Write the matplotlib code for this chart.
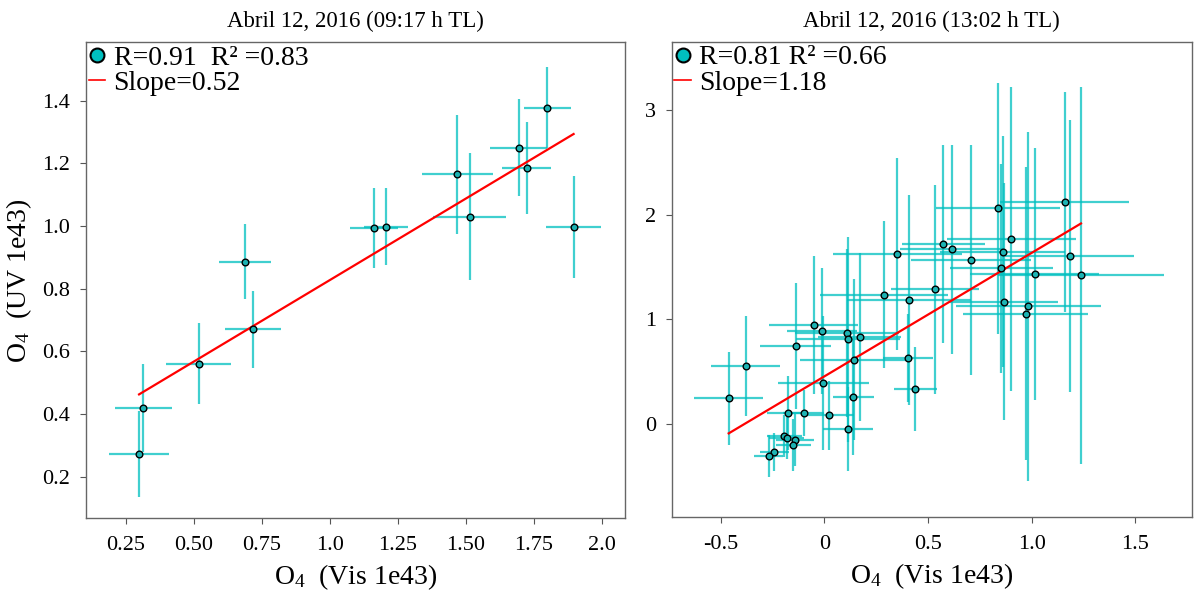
import numpy as np
import matplotlib
matplotlib.use("Agg")
import matplotlib.pyplot as plt
from matplotlib.lines import Line2D

plt.rcParams["font.family"] = ["Liberation Serif", "DejaVu Serif"]
plt.rcParams["mathtext.fontset"] = "custom"
plt.rcParams["mathtext.rm"] = "Liberation Serif"

# morning scan (09:17 h)
x_am = [0.299, 0.315, 0.518, 0.689, 0.718, 1.163, 1.208, 1.469, 1.515, 1.695, 1.724, 1.801, 1.897]
y_am = [0.272, 0.420, 0.560, 0.886, 0.670, 0.994, 0.998, 1.165, 1.029, 1.249, 1.185, 1.378, 0.998]
xerr_am = [0.109, 0.105, 0.119, 0.097, 0.104, 0.088, 0.080, 0.130, 0.134, 0.105, 0.090, 0.087, 0.100]
yerr_am = [0.136, 0.140, 0.129, 0.119, 0.122, 0.127, 0.123, 0.190, 0.203, 0.155, 0.148, 0.130, 0.163]
slope_am, icpt_am = 0.52, 0.307

# midday scan (13:02 h)
x_pm = [-0.461, -0.379, -0.138, -0.051, -0.010, 0.109, 0.114, 0.172, 0.143, -0.005,
        0.140, 0.024, 0.115, -0.177, -0.100, -0.193, -0.182, -0.141, -0.150, -0.241,
        -0.267, 0.289, 0.408, 0.402, 0.439, 0.352, 0.839, 1.159, 0.574, 0.617,
        0.708, 0.902, 0.860, 0.854, 1.183, 1.015, 1.238, 0.534, 0.867, 0.984, 0.971]
y_pm = [0.247, 0.557, 0.745, 0.949, 0.892, 0.872, 0.812, 0.831, 0.614, 0.397,
        0.260, 0.085, -0.043, 0.107, 0.107, -0.113, -0.132, -0.152, -0.196, -0.263,
        -0.305, 1.236, 1.185, 0.630, 0.333, 1.625, 2.062, 2.120, 1.721, 1.670,
        1.571, 1.766, 1.648, 1.488, 1.603, 1.434, 1.421, 1.287, 1.169, 1.124, 1.054]
xerr_pm = [0.165, 0.165, 0.17, 0.215, 0.17, 0.25, 0.25, 0.2, 0.26, 0.22,
           0.1, 0.12, 0.12, 0.1, 0.1, 0.085, 0.085, 0.09, 0.085, 0.07,
           0.07, 0.31, 0.3, 0.12, 0.105, 0.31, 0.30, 0.31, 0.20, 0.25,
           0.29, 0.31, 0.30, 0.25, 0.31, 0.31, 0.40, 0.21, 0.26, 0.35, 0.30]
yerr_pm = [0.445, 0.48, 0.6, 0.66, 0.6, 0.8, 0.98, 0.8, 0.77, 0.64,
           0.55, 0.33, 0.4, 0.35, 0.22, 0.2, 0.2, 0.25, 0.25, 0.18,
           0.2, 0.7, 1.0, 0.42, 0.4, 0.92, 1.2, 1.05, 0.95, 1.0,
           1.1, 1.45, 1.1, 1.0, 1.3, 1.2, 1.8, 1.0, 1.13, 1.67, 1.4]
slope_pm, icpt_pm = 1.18, 0.456

panels = [
    dict(x=x_am, y=y_am, xe=xerr_am, ye=yerr_am, m=slope_am, b=icpt_am,
         title="Abril 12, 2016 (09:17 h TL)", stats="R=0.91  R² =0.83",
         xlim=(0.103, 2.087), ylim=(0.068, 1.586),
         xticks=[0.25, 0.5, 0.75, 1.0, 1.25, 1.5, 1.75, 2.0],
         xlabels=["0.25", "0.50", "0.75", "1.0", "1.25", "1.50", "1.75", "2.0"],
         yticks=[0.2, 0.4, 0.6, 0.8, 1.0, 1.2, 1.4],
         ylabels=["0.2", "0.4", "0.6", "0.8", "1.0", "1.2", "1.4"]),
    dict(x=x_pm, y=y_pm, xe=xerr_pm, ye=yerr_pm, m=slope_pm, b=icpt_pm,
         title="Abril 12, 2016 (13:02 h TL)", stats="R=0.81 R² =0.66",
         xlim=(-0.736, 1.772), ylim=(-0.885, 3.65),
         xticks=[-0.5, 0, 0.5, 1.0, 1.5],
         xlabels=["-0.5", "0", "0.5", "1.0", "1.5"],
         yticks=[0, 1, 2, 3], ylabels=["0", "1", "2", "3"]),
]

fig = plt.figure(figsize=(11.96, 5.92), dpi=100)
boxes = [[0.0717, 0.125, 0.4511, 0.8035], [0.5616, 0.127, 0.4348, 0.802]]

bar_col = "#00BFBF"
pt_col = "#1DB3B3"

for i, (p, box) in enumerate(zip(panels, boxes)):
    ax = fig.add_axes(box)
    ax.errorbar(p["x"], p["y"], xerr=p["xe"], yerr=p["ye"], fmt="none",
                ecolor=bar_col, elinewidth=1.6, alpha=0.75, capsize=0, zorder=2)
    xs = np.array([min(p["x"]), max(p["x"])])
    ax.plot(xs, p["m"] * xs + p["b"], color="red", lw=1.6, zorder=3)
    ax.plot(p["x"], p["y"], "o", ms=4.8, mfc=pt_col, mec="black", mew=1.0,
            linestyle="none", zorder=4)

    ax.set_xlim(*p["xlim"])
    ax.set_ylim(*p["ylim"])
    ax.set_xticks(p["xticks"])
    ax.set_xticklabels(p["xlabels"])
    ax.set_yticks(p["yticks"])
    ax.set_yticklabels(p["ylabels"])
    ax.tick_params(direction="out", length=4, width=0.8, color="#555555",
                   labelsize=16)
    ax.tick_params(axis="x", pad=9)
    ax.tick_params(axis="y", pad=7)
    for s in ax.spines.values():
        s.set_color("#666666")
        s.set_linewidth(1.0)

    ax.set_title(p["title"], fontsize=16.5, pad=11)
    ax.set_xlabel(r"O$\mathregular{_4}$  (Vis 1e43)", fontsize=20, labelpad=5)
    if i == 0:
        ax.set_ylabel(r"O$\mathregular{_4}$  (UV 1e43)", fontsize=20, labelpad=6)

    handles = [
        Line2D([], [], marker="o", ls="none", ms=10, mfc=bar_col, mec="black", mew=1.5),
        Line2D([], [], color="red", lw=1.2),
    ]
    ax.legend(handles, [p["stats"], "Slope=%.2f" % p["m"]], loc="upper left",
              frameon=False, fontsize=20, handlelength=0.6, handletextpad=0.3,
              labelspacing=0.0, borderaxespad=0.0, borderpad=0.1,
              bbox_to_anchor=(0.0, 1.0))

fig.savefig("out.png", dpi=100)
